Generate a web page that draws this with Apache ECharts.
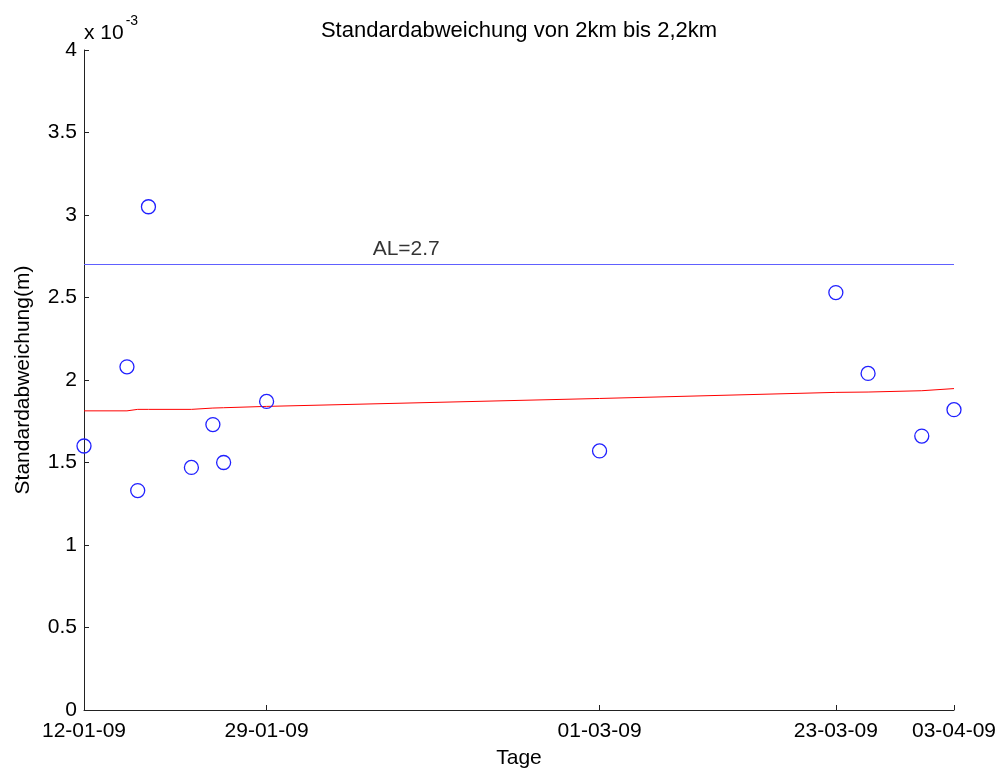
<!DOCTYPE html>
<html>
<head>
<meta charset="utf-8">
<script src="https://cdn.jsdelivr.net/npm/echarts@6/dist/echarts.min.js"></script>
<style>html,body{margin:0;padding:0;background:#fff}#c{width:1000px;height:771px}</style>
</head>
<body>
<div id="c"></div>
<script>
// Data
const dates = ["2009-01-12","2009-01-16","2009-01-17","2009-01-18","2009-01-22","2009-01-24","2009-01-25","2009-01-29","2009-03-01","2009-03-23","2009-03-26","2009-03-31","2009-04-03"];
const stdValues = [0.00160,0.00208,0.00133,0.00305,0.00147,0.00173,0.00150,0.00187,0.00157,0.00253,0.00204,0.00166,0.00182];
const trendValues = [0.001813,0.001813,0.001822,0.001822,0.001822,0.001830,0.001832,0.001840,0.001888,0.001925,0.001927,0.001935,0.001948];
const tickDates = ["2009-01-12","2009-01-29","2009-03-01","2009-03-23","2009-04-03"];
const alValue = 0.0027;
const alLabel = "AL=2.7";
const alLabelDate = "2009-02-11";

const DAY = 86400000;
const t0 = Date.parse(dates[0] + "T00:00:00Z");
const day = d => Math.round((Date.parse(d + "T00:00:00Z") - t0) / DAY);
const pad = n => (n < 10 ? "0" : "") + n;
const fmt = v => { const d = new Date(t0 + Math.round(v) * DAY); return pad(d.getUTCDate()) + "-" + pad(d.getUTCMonth()+1) + "-" + pad(d.getUTCFullYear() % 100); };

const FONT = "Liberation Sans, Arial, sans-serif";
const FS = 21;
const chart = echarts.init(document.getElementById('c'), null, {renderer: 'canvas'});
const xMax = day(dates[dates.length-1]);
chart.setOption({
  animation: false,
  backgroundColor: '#fff',
  title: {
    text: 'Standardabweichung von 2km bis 2,2km',
    left: 514, top: 15, textAlign: 'center',
    textStyle: {fontFamily: FONT, fontSize: 22, fontWeight: 'normal', color: '#000'}
  },
  grid: {left: 84, right: 46, top: 50, bottom: 61, containLabel: false, outerBoundsMode: 'none'},
  xAxis: {
    type: 'value',
    min: 0, max: xMax,
    name: 'Tage', nameLocation: 'middle', nameGap: 38,
    nameTextStyle: {fontFamily: FONT, fontSize: FS, color: '#000'},
    axisLine: {show: true, lineStyle: {color: '#222', width: 1}},
    axisTick: {show: true, inside: true, length: 5, lineStyle: {color: '#222'}, customValues: tickDates.map(day)},
    axisLabel: {fontFamily: FONT, fontSize: FS, color: '#000', margin: 11, customValues: tickDates.map(day), formatter: v => fmt(v), hideOverlap: false},
    splitLine: {show: false}
  },
  yAxis: {
    type: 'value', min: 0, max: 0.004, interval: 0.0005,
    name: 'Standardabweichung(m)', nameLocation: 'middle', nameGap: 50, nameRotate: 90,
    nameTextStyle: {fontFamily: FONT, fontSize: FS, color: '#000'},
    axisLine: {show: true, lineStyle: {color: '#222', width: 1}},
    axisTick: {show: true, inside: true, length: 5, lineStyle: {color: '#222'}},
    axisLabel: {fontFamily: FONT, fontSize: FS, color: '#000', margin: 7, formatter: v => String(+(v*1000).toFixed(1))},
    splitLine: {show: false}
  },
  series: [
    {
      type: 'line', data: [[0, alValue],[xMax, alValue]],
      symbol: 'none', itemStyle: {color: '#6060ff'}, lineStyle: {color: '#6060ff', width: 1}, silent: true, z: 2
    },
    {
      type: 'scatter', data: [[day(alLabelDate), alValue]], symbolSize: 0,
      label: {show: true, position: 'top', distance: 5, formatter: alLabel, fontFamily: FONT, fontSize: FS, color: '#000'},
      z: 3
    },
    {
      type: 'line', data: dates.map((d,i) => [day(d), trendValues[i]]),
      symbol: 'none', itemStyle: {color: '#ff0000'}, lineStyle: {color: '#ff0000', width: 1}, z: 3
    },
    {
      type: 'scatter', data: dates.map((d,i) => [day(d), stdValues[i]]),
      symbol: 'circle', symbolSize: 14,
      itemStyle: {color: 'rgba(0,0,0,0)', borderColor: '#2020ff', borderWidth: 1.3, opacity: 1},
      z: 4
    }
  ],
  graphic: [{
    type: 'text', left: 84, top: 14,
    style: {
      text: '{b|x 10}{s|-3}',
      rich: {
        b: {fontFamily: FONT, fontSize: FS, color: '#000', verticalAlign: 'bottom', lineHeight: 30},
        s: {fontFamily: FONT, fontSize: 14, color: '#000', verticalAlign: 'top', lineHeight: 30, padding: [0,0,8,2]}
      }
    }
  }]
});
</script>
</body>
</html>
